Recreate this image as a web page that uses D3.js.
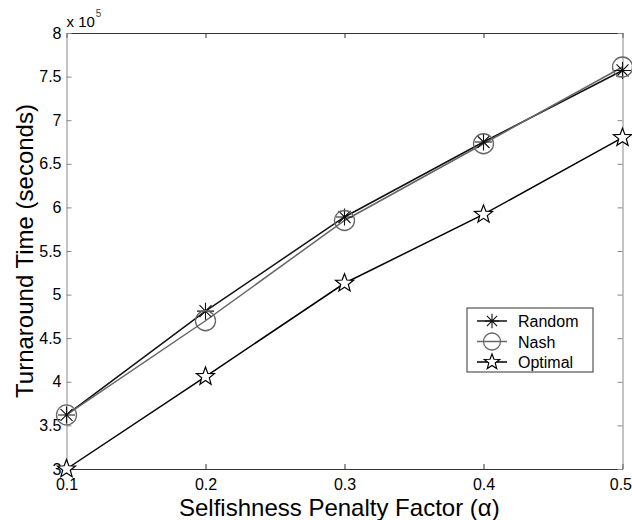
<!DOCTYPE html>
<html>
<head>
<meta charset="utf-8">
<script src="https://cdn.jsdelivr.net/npm/d3@7"></script>
<style>
  html, body { margin: 0; padding: 0; background: #fff; }
  svg { display: block; font-family: "Liberation Sans", Arial, Helvetica, sans-serif; }
</style>
</head>
<body>
<svg id="chart" width="632" height="520"></svg>
<script>
// Penalty factor values along the x axis
const alphas = [0.1, 0.2, 0.3, 0.4, 0.5];
// Turnaround time, in units of 10^5 seconds
const randomTimes  = [3.62, 4.81, 5.89, 6.75, 7.57];
const nashTimes    = [3.62, 4.70, 5.85, 6.73, 7.61];
const optimalTimes = [3.00, 4.06, 5.13, 5.92, 6.80];
const seriesNames = ["Random", "Nash", "Optimal"];
const xTicks = [0.1, 0.2, 0.3, 0.4, 0.5];
const yTicks = [3, 3.5, 4, 4.5, 5, 5.5, 6, 6.5, 7, 7.5, 8];

const svg = d3.select("#chart");
const L = 66.5, R = 622.5, T = 33, B = 469;

const x = d3.scaleLinear().domain([0.1, 0.5]).range([L, R]);
const y = d3.scaleLinear().domain([3, 8]).range([B, T]);

const tickLen = 5;
const fmt = d => String(d);
const tickFont = 16;

// Bottom axis (ticks inward)
const gx = svg.append("g").attr("transform", `translate(0,${B})`)
  .call(d3.axisBottom(x).tickValues(xTicks).tickFormat(fmt).tickSizeInner(-tickLen).tickSizeOuter(0).tickPadding(10));
// Top axis (ticks only)
const gxt = svg.append("g").attr("transform", `translate(0,${T})`)
  .call(d3.axisTop(x).tickValues(xTicks).tickFormat("").tickSizeInner(-tickLen).tickSizeOuter(0));
// Left axis
const gy = svg.append("g").attr("transform", `translate(${L},0)`)
  .call(d3.axisLeft(y).tickValues(yTicks).tickFormat(fmt).tickSizeInner(-tickLen).tickSizeOuter(0).tickPadding(5));
// Right axis (ticks only)
const gyr = svg.append("g").attr("transform", `translate(${R},0)`)
  .call(d3.axisRight(y).tickValues(yTicks).tickFormat("").tickSizeInner(-tickLen).tickSizeOuter(0));

[[gx, "#333"], [gxt, "#333"], [gy, "#888"], [gyr, "#888"]].forEach(([g, c]) => {
  g.selectAll(".domain").attr("stroke", c).attr("stroke-width", 1);
  g.selectAll(".tick line").attr("stroke", c).attr("stroke-width", 1);
  g.selectAll("text").attr("fill", "#000").attr("font-size", tickFont)
    .attr("font-family", "'Liberation Sans', Arial, Helvetica, sans-serif");
});
// Keep the last x label inside the canvas
gx.selectAll(".tick text").filter(d => d === 0.5).attr("text-anchor", "end").attr("x", 9);

// Exponent label above the y axis
const expo = svg.append("text").attr("x", L).attr("y", T - 6)
  .attr("font-size", 15).attr("fill", "#000");
expo.append("tspan").text("x 10");
expo.append("tspan").attr("dy", -10).attr("dx", 1).attr("font-size", 10).attr("fill", "#444").text("5");

// Axis titles
svg.append("text").attr("x", 179).attr("y", 516)
  .attr("text-anchor", "start").attr("font-size", 24).attr("fill", "#000")
  .text("Selfishness Penalty Factor (α)");
svg.append("text").attr("transform", `translate(33,${(T + B) / 2}) rotate(-90)`)
  .attr("text-anchor", "middle").attr("font-size", 24).attr("fill", "#000")
  .text("Turnaround Time (seconds)");

// Marker drawing helpers
function asterisk(g, cx, cy, r, color) {
  const d = r * Math.SQRT1_2;
  const p = `M${cx - r},${cy}L${cx + r},${cy}M${cx},${cy - r}L${cx},${cy + r}` +
            `M${cx - d},${cy - d}L${cx + d},${cy + d}M${cx - d},${cy + d}L${cx + d},${cy - d}`;
  g.append("path").attr("d", p).attr("stroke", color).attr("stroke-width", 1.1).attr("fill", "none");
}
function circle(g, cx, cy, r, color) {
  g.append("circle").attr("cx", cx).attr("cy", cy).attr("r", r)
    .attr("stroke", color).attr("stroke-width", 1.3).attr("fill", "none");
}
function star(g, cx, cy, r, color) {
  const pts = [];
  for (let i = 0; i < 10; i++) {
    const rr = i % 2 === 0 ? r : r * 0.42;
    const a = -Math.PI / 2 + i * Math.PI / 5;
    pts.push([cx + rr * Math.cos(a), cy + rr * Math.sin(a)]);
  }
  g.append("path").attr("d", "M" + pts.map(p => p.join(",")).join("L") + "Z")
    .attr("stroke", color).attr("stroke-width", 1.2).attr("fill", "#fff");
}

const series = [
  { name: seriesNames[0], values: randomTimes,  color: "#111", marker: asterisk, r: 8.5 },
  { name: seriesNames[1], values: nashTimes,    color: "#666", marker: circle,   r: 10 },
  { name: seriesNames[2], values: optimalTimes, color: "#000", marker: star,     r: 9.5 }
];

const line = d3.line().x((d, i) => x(alphas[i])).y(d => y(d));

const plot = svg.append("g");
series.forEach(s => {
  plot.append("path").datum(s.values).attr("d", line)
    .attr("fill", "none").attr("stroke", s.color).attr("stroke-width", 1.5);
});
series.forEach(s => {
  s.values.forEach((v, i) => s.marker(plot, x(alphas[i]), y(v), s.r, s.color));
});

// Legend
const lg = svg.append("g");
const lx = 467, ly = 308, lw = 126, lh = 64;
lg.append("rect").attr("x", lx).attr("y", ly).attr("width", lw).attr("height", lh)
  .attr("fill", "#fff").attr("stroke", "#333").attr("stroke-width", 1);
series.forEach((s, i) => {
  const yy = ly + 13 + i * 20.5;
  lg.append("line").attr("x1", lx + 10).attr("x2", lx + 40).attr("y1", yy).attr("y2", yy)
    .attr("stroke", s.color).attr("stroke-width", 1.5);
  s.marker(lg, lx + 25, yy, s.r * 0.85, s.color);
  lg.append("text").attr("x", lx + 51).attr("y", yy + 6).attr("font-size", 16)
    .attr("fill", "#000").text(s.name);
});
</script>
</body>
</html>
